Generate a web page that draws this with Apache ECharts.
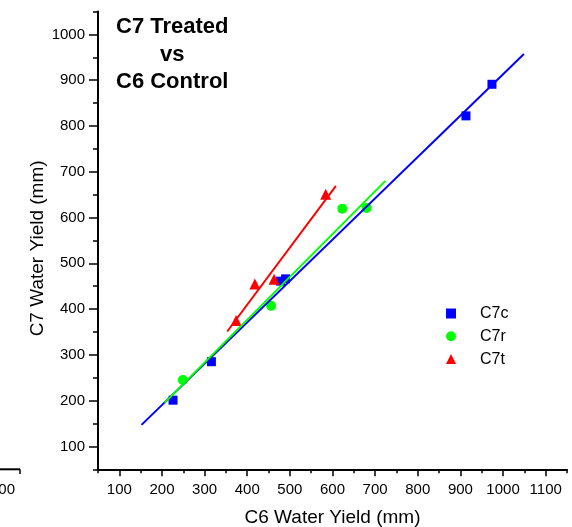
<!DOCTYPE html>
<html><head><meta charset="utf-8">
<script src="https://cdn.jsdelivr.net/npm/echarts@6/dist/echarts.min.js"></script>
<style>html,body{margin:0;padding:0;background:#fff}#c{width:572px;height:527px}</style>
</head><body><div id="c"></div>
<script>
// Observed data (x = C6 water yield, y = C7 water yield, mm)
var c7cX = [226, 316, 478, 490, 913, 974];
var c7cY = [201, 285, 461, 466, 822, 891];
var c7rX = [249, 456, 623, 680];
var c7rY = [245, 407, 619, 621];
var c7tX = [374, 418, 463, 584];
var c7tY = [375, 455, 465, 651];
// Fitted line endpoints
var fitCX = [152, 1049], fitCY = [147, 957];
var fitRX = [206, 724], fitRY = [195, 680];
var fitTX = [353, 608], fitTY = [351, 669];
// Tick values
var xMajor = [100,200,300,400,500,600,700,800,900,1000,1100];
var xMinor = [50,150,250,350,450,550,650,750,850,950,1050,1150];
var yMajor = [100,200,300,400,500,600,700,800,900,1000];
var yMinor = [50,150,250,350,450,550,650,750,850,950,1050];

function pairs(xs, ys){ return xs.map(function(x,i){return [x, ys[i]];}); }
function plain(v){ return String(v); }
var FONT = 'Liberation Sans, Arial, sans-serif';
var chart = echarts.init(document.getElementById('c'), null, {renderer:'canvas'});
var axisLineStyle = {color:'#000', width:2};
chart.setOption({
  animation:false,
  backgroundColor:'#fff',
  grid:{left:98, right:5, top:11.5, bottom:57.7, containLabel:false, outerBoundsMode:'none', show:false},
  legend:{
    data:['C7c','C7r','C7t'], orient:'vertical', left:446, top:305.5, padding:0,
    itemWidth:10, itemHeight:10, itemGap:6.8,
    textStyle:{fontFamily:FONT, fontSize:16, color:'#000', padding:[0,0,0,19]}
  },
  xAxis:[{
    type:'value', min:50, max:1150, position:'bottom',
    name:'C6 Water Yield (mm)', nameLocation:'middle', nameGap:39, nameMoveOverlap:false,
    nameTextStyle:{fontFamily:FONT, fontSize:19, color:'#000'},
    axisLine:{show:true, onZero:false, lineStyle:axisLineStyle},
    axisTick:{show:true, inside:false, length:7, customValues:xMajor, lineStyle:{color:'#000', width:1.5}},
    axisLabel:{show:true, customValues:xMajor, margin:13, formatter:plain, fontFamily:FONT, fontSize:15, color:'#000'},
    splitLine:{show:false}
  },{
    type:'value', min:50, max:1150, position:'bottom', gridIndex:0,
    axisLine:{show:false},
    axisTick:{show:true, inside:false, length:4, customValues:xMinor, lineStyle:{color:'#000', width:1.5}},
    axisLabel:{show:false}, splitLine:{show:false}
  }],
  yAxis:[{
    type:'value', min:50, max:1050, position:'left',
    name:'C7 Water Yield (mm)', nameLocation:'middle', nameGap:51, nameRotate:90, nameMoveOverlap:false,
    nameTextStyle:{fontFamily:FONT, fontSize:19, color:'#000', padding:[0,16,0,0]},
    axisLine:{show:true, onZero:false, lineStyle:axisLineStyle},
    axisTick:{show:true, inside:false, length:9, customValues:yMajor, lineStyle:{color:'#000', width:1.5}},
    axisLabel:{show:true, customValues:yMajor, margin:13, formatter:plain, fontFamily:FONT, fontSize:15, color:'#000'},
    splitLine:{show:false}
  },{
    type:'value', min:50, max:1050, position:'left',
    axisLine:{show:false},
    axisTick:{show:true, inside:false, length:5, customValues:yMinor, lineStyle:{color:'#000', width:1.5}},
    axisLabel:{show:false}, splitLine:{show:false}
  }],
  graphic:[
    {type:'text', left:116, top:16, style:{text:'C7 Treated', font:'bold 22px '+FONT, fill:'#000'}},
    {type:'text', left:160, top:44, style:{text:'vs', font:'bold 22px '+FONT, fill:'#000'}},
    {type:'text', left:116, top:71, style:{text:'C6 Control', font:'bold 22px '+FONT, fill:'#000'}},
    {type:'line', shape:{x1:0, y1:469.3, x2:20, y2:469.3}, style:{stroke:'#000', lineWidth:2}},
    {type:'line', shape:{x1:20, y1:469.3, x2:20, y2:474}, style:{stroke:'#000', lineWidth:1.5}},
    {type:'text', x:15, y:482, style:{text:'1100', font:'15px '+FONT, fill:'#000', textAlign:'right'}}
  ],
  series:[
    {name:'C7c', type:'scatter', xAxisIndex:0, yAxisIndex:0, symbol:'rect', symbolSize:9, itemStyle:{color:'#0000FF', opacity:1}, data:pairs(c7cX,c7cY), z:3},
    {name:'C7r', type:'scatter', xAxisIndex:0, yAxisIndex:0, symbol:'circle', symbolSize:10, itemStyle:{color:'#00FF00', opacity:1}, data:pairs(c7rX,c7rY), z:3},
    {name:'C7t', type:'scatter', xAxisIndex:0, yAxisIndex:0, symbol:'triangle', symbolSize:11, itemStyle:{color:'#FF0000', opacity:1}, data:pairs(c7tX,c7tY), z:3},
    {name:'fitC', type:'line', xAxisIndex:0, yAxisIndex:0, showSymbol:false, symbol:'none', lineStyle:{color:'#0000FF', width:2}, data:pairs(fitCX,fitCY), z:4},
    {name:'fitR', type:'line', xAxisIndex:0, yAxisIndex:0, showSymbol:false, symbol:'none', lineStyle:{color:'#00FF00', width:2}, data:pairs(fitRX,fitRY), z:4},
    {name:'fitT', type:'line', xAxisIndex:0, yAxisIndex:0, showSymbol:false, symbol:'none', lineStyle:{color:'#FF0000', width:2}, data:pairs(fitTX,fitTY), z:4}
  ]
});
</script></body></html>
